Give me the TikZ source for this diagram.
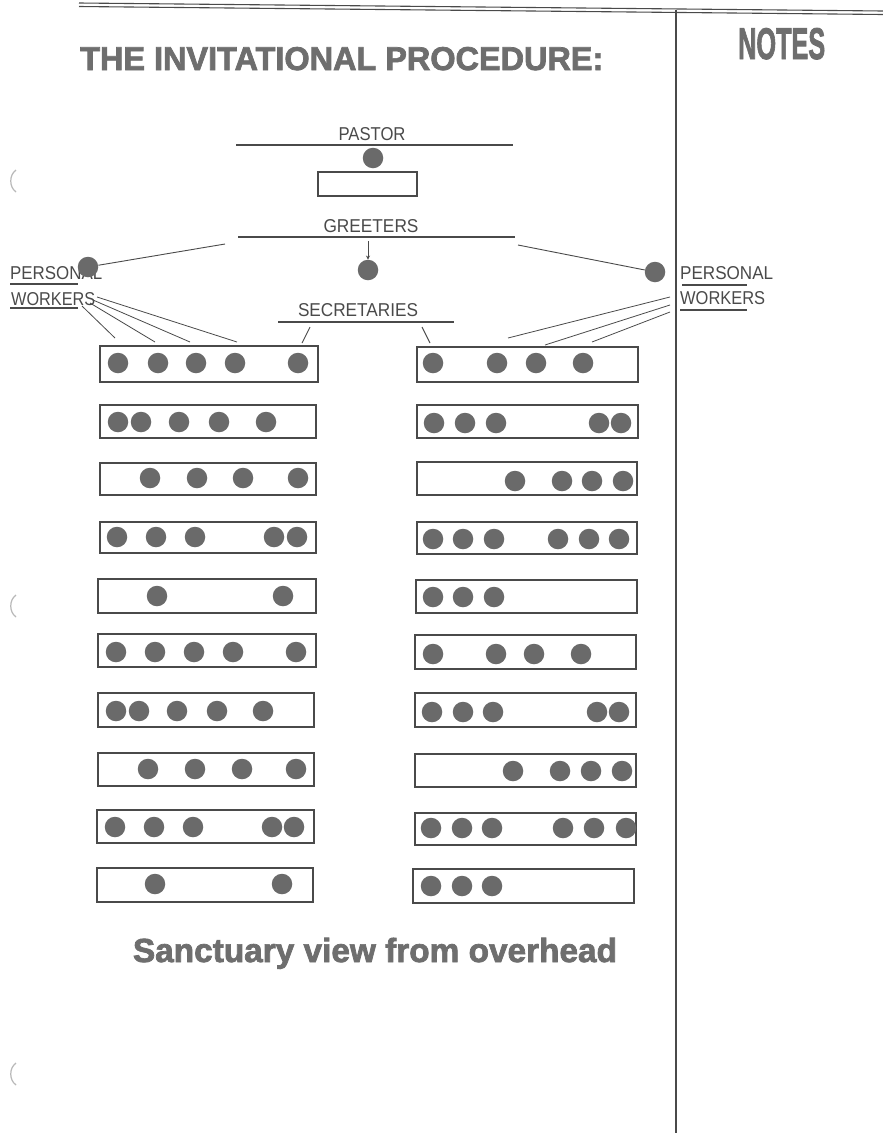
\documentclass[tikz,border=0pt]{standalone}
\usepackage{fontspec}
\setmainfont{Liberation Sans}
\newfontfamily\blackfont[BoldFeatures={FakeBold=2.2}]{Liberation Sans}
\usetikzlibrary{arrows.meta}
\definecolor{ink}{HTML}{4A4A4A}
\definecolor{dotc}{HTML}{6A6A6A}
\definecolor{headc}{HTML}{6E6E6E}
\definecolor{punchc}{HTML}{B8B8B8}
\tikzset{
  seat/.style={circle, fill=dotc, draw=none, minimum size=20.5pt, inner sep=0pt},
  pew/.style={draw=ink, line width=1.8pt},
  rulel/.style={draw=ink, line width=1.6pt},
  thinl/.style={draw=ink, line width=0.9pt},
  hand/.style={inner sep=0pt, text=ink, anchor=base},
  handw/.style={inner sep=0pt, text=ink, anchor=base west},
  head/.style={inner sep=0pt, text=headc, anchor=base west, font=\blackfont\bfseries},
  punch/.style={draw=punchc, line width=1.2pt},
}
\begin{document}
\begin{tikzpicture}[x=1pt,y=-1pt]
\useasboundingbox[fill=white] (0,0) rectangle (883,1133);

% page rules
\draw[ink, line width=1.1pt] (79,3) -- (883,11);
\draw[ink, line width=1.1pt] (79,6.5) -- (883,14.5);
\draw[ink, line width=2.4pt] (676,10) -- (676,1133);

% punch marks
\draw[punch] (16,170) .. controls (9,175) and (9,187) .. (16,192);
\draw[punch] (16,595) .. controls (9,600) and (9,612) .. (16,617);
\draw[punch] (16,1063) .. controls (9,1068) and (9,1080) .. (16,1085);

% headings
\node[head] (title) at (80,70) {\resizebox{523pt}{23pt}{THE INVITATIONAL PROCEDURE:}};
\node[head] (notes) at (738,59) {\resizebox{87pt}{31pt}{NOTES}};

% pastor
\node[hand] (lpastor) at (372,140) {\resizebox{67pt}{13pt}{PASTOR}};
\draw[rulel] (236,145) -- (513,145);
\node[seat] (pastor) at (373,158) {};
\node[draw=ink, line width=1.9pt, minimum width=99pt, minimum height=24pt, inner sep=0pt] (pulpit) at (367.5,184) {};

% greeters
\node[hand] (lgreet) at (371,232.5) {\resizebox{95pt}{13pt}{GREETERS}};
\draw[rulel] (238,237) -- (515,237);
\node[seat] (gC) at (368,270) {};
\coordinate (ga) at (368,241);
\draw[thinl, -{Stealth[length=4pt,width=4pt]}] (ga) -- (gC);

% personal workers left
\node[handw] (lpersL) at (10,279.5) {\resizebox{92pt}{13pt}{PERSONAL}};
\node[handw] (lworkL) at (11,305) {\resizebox{84pt}{13pt}{WORKERS}};
\draw[rulel, line width=1.3pt] (10,284) -- (78,284);
\draw[rulel, line width=1.3pt] (10,308) -- (78,308);
\node[seat] (pwL) at (88,267) {};
\coordinate (gl) at (225,244);
\draw[thinl] (pwL) -- (gl);

% personal workers right
\node[handw] (lpersR) at (680,279.5) {\resizebox{93pt}{13pt}{PERSONAL}};
\node[handw] (lworkR) at (680,304.5) {\resizebox{85pt}{13pt}{WORKERS}};
\draw[rulel, line width=1.3pt] (682,285) -- (747,285);
\draw[rulel, line width=1.3pt] (680,310) -- (747,310);
\node[seat] (pwR) at (655,272) {};
\coordinate (gr) at (518,245);
\draw[thinl] (gr) -- (pwR);

% secretaries
\node[hand] (lsec) at (358,316.5) {\resizebox{120pt}{13pt}{SECRETARIES}};
\draw[rulel] (278,322) -- (454,322);
\coordinate (sa1) at (310,327); \coordinate (sb1) at (302,343);
\coordinate (sa2) at (422,327); \coordinate (sb2) at (430,343);
\draw[thinl] (sa1) -- (sb1);
\draw[thinl] (sa2) -- (sb2);

% worker fan lines left
\coordinate (lw1) at (82,306);  \coordinate (lt1) at (115,338);
\coordinate (lw2) at (90,303);  \coordinate (lt2) at (155,342);
\coordinate (lw3) at (93,300);  \coordinate (lt3) at (190,342);
\coordinate (lw4) at (97,297);  \coordinate (lt4) at (237,342);
\foreach \k in {1,2,3,4} {\draw[thinl, line width=0.8pt] (lw\k) -- (lt\k);}

% worker fan lines right
\coordinate (rw1) at (670,297); \coordinate (rt1) at (508,338);
\coordinate (rw2) at (670,305); \coordinate (rt2) at (545,345);
\coordinate (rw3) at (670,312); \coordinate (rt3) at (592,342);
\foreach \k in {1,2,3} {\draw[thinl, line width=0.8pt] (rw\k) -- (rt\k);}

% left pews
\foreach \r/\xa/\ya/\xb/\yb/\cy/\xs in {
  1/100/346/318/382/363/{118,158,196,235,298},
  2/100/405/316/438/422/{118,141,179,219,266},
  3/100/463/316/495/478/{150,197,243,298},
  4/100/522/316/553/537/{117,156,195,274,297},
  5/98/579/316/613/596/{157,283},
  6/98/634/316/667/652/{116,155,194,233,296},
  7/98/693/314/727/711/{116,139,177,217,263},
  8/98/753/314/786/769/{148,195,242,296},
  9/97/810/314/843/827/{115,154,193,272,294},
  10/97/868/313/902/884/{155,282}} {
  \draw[pew] (\xa,\ya) rectangle (\xb,\yb);
  \foreach \x [count=\i] in \xs {\node[seat] (L\r-\i) at (\x,\cy) {};}
}

% right pews
\foreach \r/\xa/\ya/\xb/\yb/\cy/\xs in {
  1/417/347/638/382/363/{433,497,536,583},
  2/417/405/638/438/423/{434,465,496,599,621},
  3/417/462/637/495/481/{515,562,592,623},
  4/417/522/637/554/539/{433,463,494,558,589,619},
  5/416/580/637/613/597/{433,463,494},
  6/415/635/636/669/654/{433,496,534,581},
  7/415/693/636/727/712/{432,463,493,597,619},
  8/415/754/636/787/771/{513,560,591,622},
  9/415/813/636/845/828/{431,462,492,563,594,626},
  10/413/869/634/903/886/{431,462,492}} {
  \draw[pew] (\xa,\ya) rectangle (\xb,\yb);
  \foreach \x [count=\i] in \xs {\node[seat] (R\r-\i) at (\x,\cy) {};}
}

% caption
\node[inner sep=0pt, text=headc, anchor=base, font=\blackfont\bfseries] (caption) at (375,962)
  {\resizebox{484pt}{!}{Sanctuary view from overhead}};
\end{tikzpicture}
\end{document}
